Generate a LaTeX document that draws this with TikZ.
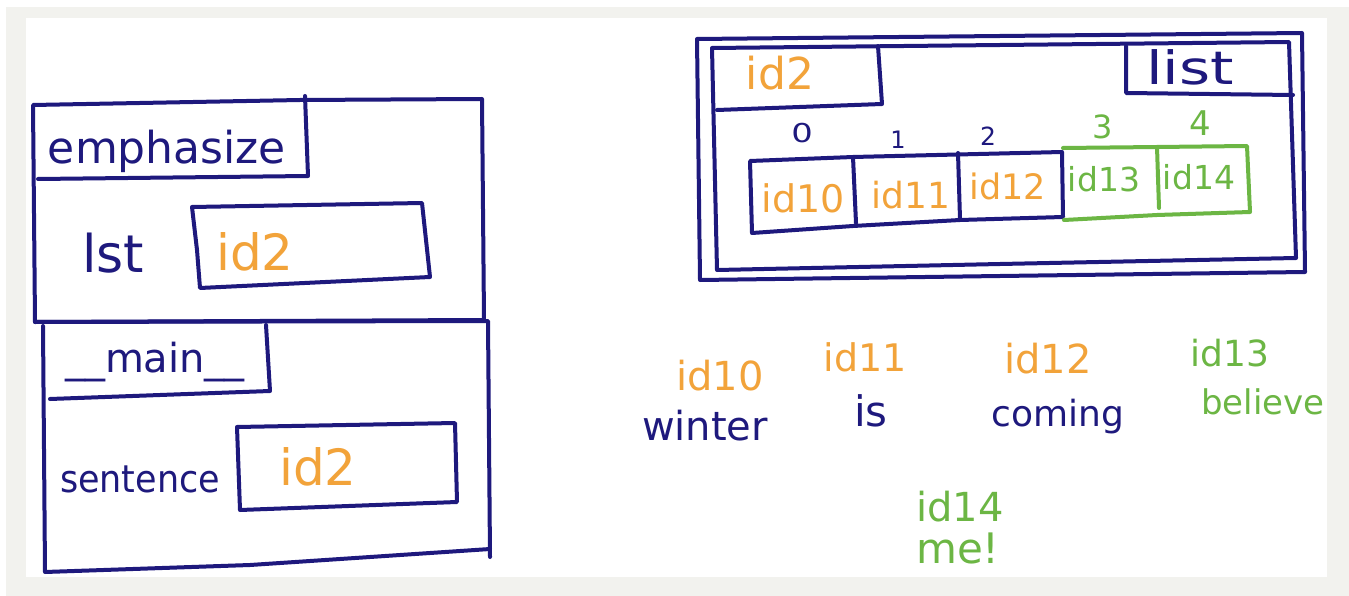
\documentclass[tikz,border=0pt]{standalone}
\usepackage{fontspec}
\setmainfont{DejaVu Sans}
\definecolor{ink}{HTML}{1E197D}
\definecolor{org}{HTML}{F2A33A}
\definecolor{grn}{HTML}{6CB644}
\definecolor{pagegrey}{HTML}{F2F2EE}
\newcommand{\fs}[1]{\fontsize{#1}{#1}\selectfont}
\begin{document}
\begin{tikzpicture}[x=1pt,y=-1pt,line width=4pt,line join=round,line cap=round,
  pen/.style={draw=ink},
  gpen/.style={draw=grn},
  txt/.style={anchor=base,inner sep=0pt,text=ink},
  otxt/.style={txt,text=org},
  gtxt/.style={txt,text=grn}]
\useasboundingbox (0,0) rectangle (1349,596);
\fill[white] (0,0) rectangle (1349,596);
\fill[pagegrey] (6,7) rectangle (1349,596);
\fill[white] (26,18) rectangle (1327,577);

% ---- emphasize frame ----
\draw[pen] (33,105) -- (300,100) -- (482,99) -- (484,320) -- (35,322) -- cycle;
\draw[pen] (305,96) -- (308,176) -- (38,179);
\draw[pen] (192,207) -- (422,203) -- (430,277) -- (200,288) -- (197,250) -- (192,207);
\node[txt,font=\fs{44}] (emph) at (167,164) {emphasize};
\node[txt,font=\fs{52}] (lst) at (113,272) {lst};
\node[otxt,font=\fs{50}] (lid2) at (255,270) {id2};

% ---- __main__ frame ----
\draw[pen] (35,322) -- (488,321) -- (490,557);
\draw[pen] (43,326) -- (45,572) -- (250,565) -- (490,549);
\draw[pen] (266,325) -- (270,391) -- (50,399);
\draw[pen] (237,427) -- (455,423) -- (457,502) -- (240,510) -- (237,427);
\node[txt,font=\fs{40}] (mainlbl) at (155,372) {\_\_main\_\_};
\node[txt,font=\fs{38}] (sent) at (140,492) {\scalebox{0.92}[1]{sentence}};
\node[otxt,font=\fs{50}] (sid2) at (318,485) {id2};

% ---- list object ----
\draw[pen] (697,39) -- (1000,36) -- (1302,33) -- (1305,272) -- (1000,276) -- (700,280) -- cycle;
\draw[pen] (712,48) -- (1000,45) -- (1289,42) -- (1296,258) -- (1000,264) -- (717,270) -- cycle;
\draw[pen] (878,46) -- (882,104) -- (717,110);
\draw[pen] (1126,46) -- (1126,93) -- (1293,95);
\node[otxt,font=\fs{44}] (rid2) at (780,90) {id2};
\node[txt,font=\fs{46}] (listlbl) at (1190,85) {\scalebox{1.3}[1]{list}};

% cells
\draw[pen] (1062,152) -- (853,157) -- (750,161) -- (752,233) -- (853,226) -- (960,220) -- (1063,217) -- cycle;
\draw[pen] (853,157) -- (856,223);
\draw[pen] (958,153) -- (960,219);
\draw[gpen] (1063,148) -- (1157,147) -- (1247,146) -- (1250,212) -- (1157,215) -- (1064,220);
\draw[gpen] (1157,147) -- (1159,208);

\node[txt,font=\fs{26}] (i0) at (802,143) {\scalebox{1.3}[1]{0}};
\node[txt,font=\fs{24}] (i1) at (898,149) {1};
\node[txt,font=\fs{25}] (i2) at (988,146) {2};
\node[gtxt,font=\fs{32}] (i3) at (1103,139) {3};
\node[gtxt,font=\fs{34}] (i4) at (1200,136) {4};

\node[otxt,font=\fs{38}] (c0) at (803,213) {id10};
\node[otxt,font=\fs{36}] (c1) at (911,208) {id11};
\node[otxt,font=\fs{35}] (c2) at (1008,200) {id12};
\node[gtxt,font=\fs{33}] (c3) at (1104,192) {id13};
\node[gtxt,font=\fs{33}] (c4) at (1199,190) {id14};

% ---- loose strings ----
\node[otxt,font=\fs{40}] (s0id) at (720,390) {id10};
\node[txt,font=\fs{40}] (s0) at (705,440) {winter};
\node[otxt,font=\fs{38}] (s1id) at (865,371) {id11};
\node[txt,font=\fs{42}] (s1) at (871,426) {is};
\node[otxt,font=\fs{40}] (s2id) at (1048,373) {id12};
\node[txt,font=\fs{36}] (s2) at (1058,426) {coming};
\node[gtxt,font=\fs{36}] (s3id) at (1230,366) {id13};
\node[gtxt,font=\fs{34}] (s3) at (1263,414) {believe};
\node[gtxt,font=\fs{40}] (s4id) at (960,521) {id14};
\node[gtxt,font=\fs{42}] (s4) at (958,563) {me!};
\end{tikzpicture}
\end{document}
